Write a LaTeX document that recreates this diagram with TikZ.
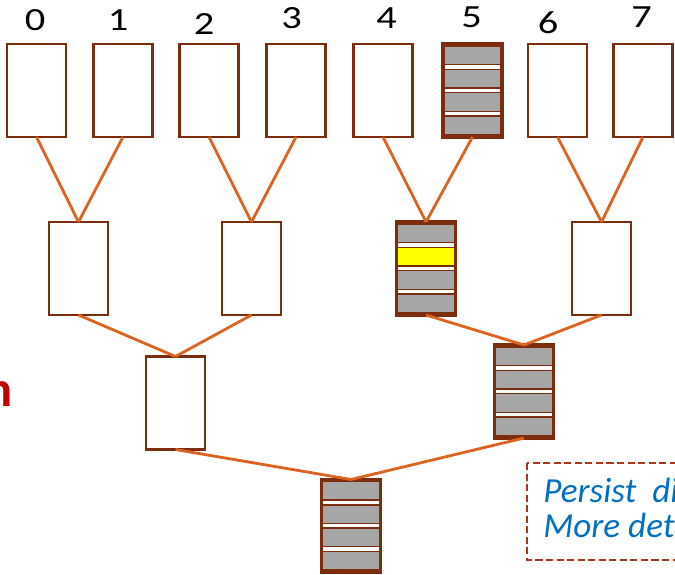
\documentclass[tikz,border=0pt]{standalone}
\usepackage{fontspec}
\setmainfont{Carlito}
\definecolor{edge}{HTML}{7E2C0E}
\definecolor{wire}{HTML}{DD6420}
\definecolor{cell}{HTML}{A6A6A6}
\definecolor{hot}{HTML}{FFFF00}
\definecolor{notered}{HTML}{C00000}
\definecolor{noteblue}{HTML}{0070C0}
\definecolor{notebox}{HTML}{AD3519}
\newcommand{\wide}[1]{\scalebox{1.25}[1]{#1}}
\begin{document}
\begin{tikzpicture}[x=0.025cm,y=-0.025cm]

\def\bw{1.475cm}
\def\bh{2.325cm}
\def\slot{0.58125cm}
\tikzstyle{box} = [
	draw=edge, fill=white, rectangle, line width=1.5pt,
	minimum width=\bw, minimum height=\bh, inner sep=0pt, outer sep=0pt ];
\tikzstyle{link} = [draw=wire, line width=2pt];
\tikzstyle{num} = [inner sep=0pt, font=\fontsize{23}{27}\selectfont];
\tikzstyle{note} = [anchor=base west, inner sep=0pt, text=noteblue,
	font=\fontsize{25}{30}\selectfont\itshape];
% a filled buffer: four stripes, colours given in order from the top
\tikzset{full/.style={box, line width=2.2pt, path picture={
	\foreach \c [count=\k from 0] in {#1}
		\filldraw[fill=\c, draw=edge, line width=1pt]
			([yshift={-\k*\slot-0.09*\slot}]path picture bounding box.north west)
			rectangle ++(\bw,{-0.8*\slot});
	}}}
\useasboundingbox (0,0) rectangle (675,574);

% leaves
\node[box] (a0) at (36.5,90.5) {};
\node[box] (a1) at (123,90.5) {};
\node[box] (a2) at (209,90.5) {};
\node[box] (a3) at (296,90.5) {};
\node[box] (a4) at (383,90.5) {};
\node[full={cell,cell,cell,cell}] (a5) at (472.5,90.5) {};
\node[box] (a6) at (557.5,90.5) {};
\node[box] (a7) at (643,90.5) {};

\node[num] (n0) at (35,20.5) {\wide{0}};
\node[num] (n1) at (118,20.5) {\wide{1}};
\node[num] (n2) at (204,24) {\wide{2}};
\node[num] (n3) at (291.5,18) {\wide{3}};
\node[num] (n4) at (386.5,18) {\wide{4}};
\node[num] (n5) at (471.5,17.5) {\wide{5}};
\node[num] (n6) at (548,23) {\wide{6}};
\node[num] (n7) at (641.5,17.5) {\wide{7}};

% second level
\node[box] (b0) at (78.5,268.5) {};
\node[box] (b1) at (251.5,268.5) {};
\node[full={cell,hot,cell,cell}] (b2) at (426,268.5) {};
\node[box] (b3) at (601.5,268.5) {};

% third level and root
\node[box] (c0) at (175.5,403) {};
\node[full={cell,cell,cell,cell}] (c1) at (524,391.5) {};
\node[full={cell,cell,cell,cell}] (d0) at (351,526) {};

\foreach \i/\p in {0/0,1/0,2/1,3/1,4/2,5/2,6/3,7/3}
	\draw[link] (a\i.south) -- (b\p.north);
\draw[link] (b0.south) -- (c0.north);
\draw[link] (b1.south) -- (c0.north);
\draw[link] (b2.south) -- (c1.north);
\draw[link] (b3.south) -- (c1.north);
\draw[link] (c0.south) -- (d0.north);
\draw[link] (c1.south) -- (d0.north);

\node[anchor=base east, inner sep=0pt, text=notered,
	font=\fontsize{36}{40}\selectfont\bfseries] (tag) at (13,406) {n};

\draw[notebox, dash pattern=on 5pt off 2.5pt, line width=1.3pt] (527,463) rectangle (700,560);
\node[note] (l1) at (543,502) {Persist\ \ di};
\node[note] (l2) at (543,537) {More deta};

\end{tikzpicture}
\end{document}
